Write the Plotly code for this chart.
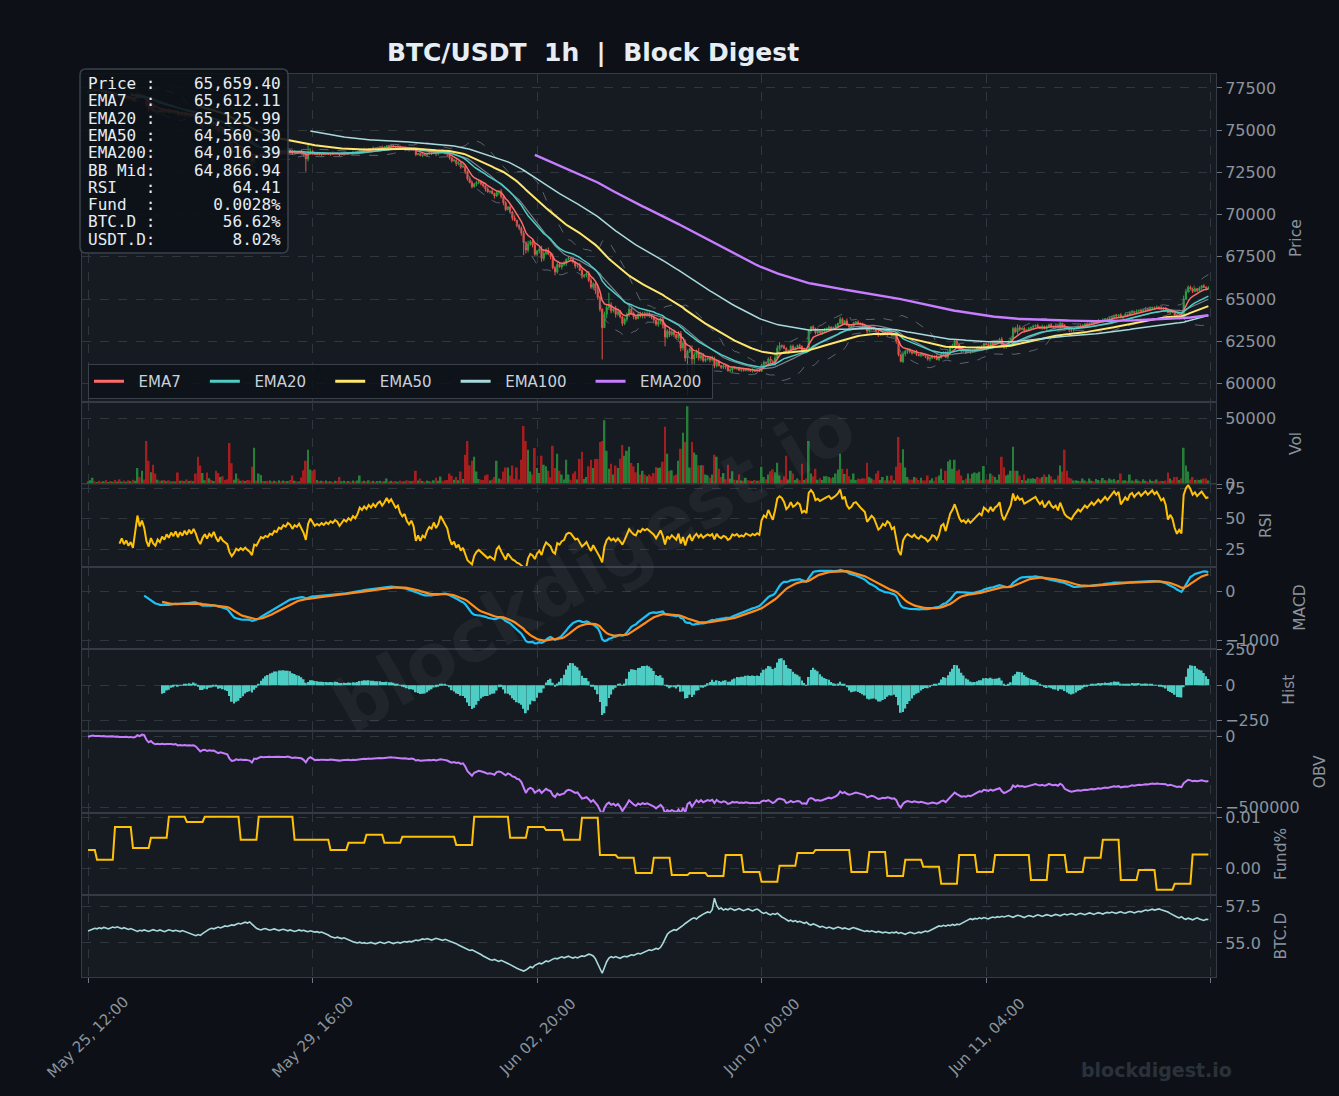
import numpy as np
import pandas as pd
import plotly.graph_objects as go
from plotly.subplots import make_subplots

# ---------------- data ----------------
start_time = "2024-05-25 12:00"
open_first = 77250.0

close_rows = [
    [77300, 77380, 77420, 77350, 77410, 77330, 77260, 77300, 77180, 77220, 77100, 77140, 77050, 77090, 76980, 77020, 76920, 76950, 76850, 76880, 76760, 76900, 77150, 76950],
    [77050, 76900, 76500, 76250, 76420, 76180, 76060, 76190, 76070, 76190, 76060, 76180, 76040, 76160, 76020, 76130, 75900, 76020, 75880, 76000, 75850, 75970, 75820, 75940],
    [75760, 75450, 75250, 75400, 75500, 75300, 75420, 75300, 75420, 75150, 74950, 75080, 74880, 74780, 74680, 74100, 73700, 73780, 73900, 73760, 73820, 73680, 73740, 73580],
    [73450, 73150, 73420, 73350, 73480, 73580, 73520, 73580, 73530, 73610, 73570, 73660, 73620, 73720, 73680, 73760, 73720, 73800, 73760, 73650, 73720, 73680, 73740, 73640],
    [73520, 73300, 73620, 73760, 73640, 73560, 73600, 73560, 73610, 73570, 73620, 73580, 73630, 73600, 73650, 73620, 73540, 73590, 73640, 73610, 73660, 73630, 73690, 73660],
    [73720, 73830, 73800, 73860, 73830, 73900, 73870, 73930, 73900, 73960, 73990, 73950, 74000, 74080, 74040, 74090, 74050, 74010, 74040, 73970, 73930, 73960, 73880, 73840],
    [73880, 73810, 73560, 73620, 73500, 73560, 73520, 73600, 73650, 73620, 73700, 73610, 73660, 73780, 73720, 73660, 73580, 73360, 73180, 73220, 73020, 73060, 72820, 72860],
    [72560, 72110, 71900, 71650, 71820, 71900, 71940, 71820, 71700, 71520, 71350, 71380, 71250, 71100, 71300, 71360, 71050, 70700, 70300, 70450, 70150, 69800, 69650, 69350],
    [69200, 68900, 68350, 67900, 68250, 68400, 68200, 67650, 67850, 67950, 67400, 67700, 67900, 67650, 67500, 66850, 66600, 67050, 66900, 67050, 67100, 67350, 67420, 67380],
    [67200, 66950, 66980, 66700, 66350, 66420, 66500, 66100, 65700, 65900, 65500, 65100, 64400, 63300, 64100, 64500, 64650, 64300, 64400, 64100, 64250, 63950, 63550, 63800],
    [64050, 64400, 64150, 63950, 63850, 64100, 64000, 64150, 64050, 64120, 64000, 63900, 63750, 63500, 63650, 63800, 63450, 62750, 63100, 62900, 63050, 62900, 62700, 62950],
    [62100, 62400, 61500, 61900, 62050, 61450, 61700, 61850, 61500, 61650, 61350, 61450, 61520, 61400, 61480, 61050, 61300, 61050, 60950, 61050, 60980, 60750, 60800, 60950],
    [60880, 60930, 60780, 60820, 60760, 60850, 60800, 60740, 60790, 60730, 60780, 60720, 61100, 61250, 61200, 61450, 61300, 61150, 61500, 62100, 62250, 62200, 62080, 61850],
    [61950, 62200, 62050, 62120, 62250, 62200, 61950, 62020, 61950, 63100, 63350, 63250, 63000, 63100, 63020, 63080, 63180, 63260, 63330, 63250, 63320, 63420, 63550, 63800],
    [63550, 63700, 63450, 63350, 63420, 63600, 63640, 63560, 63500, 63440, 63380, 63100, 63200, 63280, 63220, 63050, 62850, 62900, 63000, 62940, 63050, 63000, 62820, 62860],
    [62500, 61700, 61300, 61750, 61900, 61980, 61880, 61800, 61880, 61720, 61650, 61730, 61660, 61600, 61450, 61500, 61600, 61560, 61420, 61520, 61750, 61800, 61550, 61850],
    [62100, 62250, 62500, 62300, 62050, 61900, 61950, 61850, 61950, 61850, 61920, 62000, 62080, 62150, 62100, 62350, 62300, 62250, 62400, 62300, 62420, 62480, 62600, 62300],
    [62150, 62300, 62450, 62650, 63250, 63050, 63300, 63200, 63260, 63120, 63180, 63250, 63320, 63380, 63440, 63350, 63280, 63380, 63250, 63350, 63480, 63380, 63330, 63400],
    [63300, 63550, 63420, 63280, 63220, 63180, 63150, 63250, 63320, 63400, 63360, 63450, 63520, 63480, 63560, 63620, 63580, 63660, 63720, 63680, 63760, 63820, 63780, 63850],
    [63950, 64020, 63980, 64060, 63900, 63980, 64080, 64040, 64200, 64250, 64200, 64280, 64330, 64290, 64360, 64420, 64380, 64450, 64500, 64460, 64520, 64480, 64430, 64470],
    [64400, 64200, 64280, 64220, 64050, 63920, 63980, 63900, 65000, 65450, 65700, 65600, 65450, 65600, 65500, 65650, 65780, 65700, 65620, 65659.40],
]

volume_rows = [
    [2200, 3100, 5000, 2500, 1900, 2800, 2100, 2400, 3300, 1800, 2600, 2000, 3400, 2200, 3900, 2300, 2900, 2100, 3200, 2500, 3600, 2800, 12400, 5700],
    [10400, 3800, 32800, 17900, 9200, 14900, 8200, 3500, 2700, 2900, 3300, 2400, 3100, 2200, 2600, 2300, 9000, 2800, 3000, 2500, 3700, 2600, 2900, 2400],
    [8200, 20900, 14200, 8700, 3100, 9000, 4700, 3300, 2600, 10400, 8700, 5700, 6200, 3400, 3900, 31300, 15900, 3500, 8200, 4500, 2800, 3200, 2600, 3300],
    [3100, 13400, 27600, 3000, 8200, 7200, 2600, 2400, 2800, 3000, 2300, 2700, 2500, 3100, 2200, 2900, 2400, 2600, 3300, 6700, 2700, 2400, 2200, 5200],
    [10700, 17900, 26100, 11200, 10200, 11200, 3300, 2600, 2800, 2400, 2900, 2300, 2500, 2100, 2800, 2600, 5700, 2400, 2700, 2300, 2600, 2200, 3000, 2500],
    [2900, 6700, 2400, 2800, 2200, 3100, 2300, 2700, 2100, 2600, 2800, 2300, 2500, 4500, 2400, 2700, 2200, 2600, 2100, 2900, 2500, 2200, 3100, 2700],
    [2500, 2800, 10400, 3000, 4500, 2600, 2300, 2900, 2500, 2200, 3100, 5000, 2700, 6000, 2800, 3100, 3400, 8200, 6500, 3600, 5700, 3200, 9700, 4100],
    [22400, 32800, 14400, 17900, 20900, 9700, 4200, 3600, 3300, 6700, 7500, 3000, 3700, 5700, 17900, 4500, 3900, 9700, 12700, 12700, 6700, 14200, 4200, 12700],
    [3800, 18700, 44000, 32800, 26100, 9700, 7500, 27400, 12400, 8700, 21600, 14900, 13700, 10400, 5500, 29100, 12400, 23100, 10400, 7500, 3800, 18700, 7500, 3500],
    [8200, 10000, 3700, 19200, 24600, 4200, 5700, 13700, 18700, 12400, 19200, 19200, 32100, 32800, 48500, 25400, 11900, 15700, 7500, 14200, 12400, 19400, 29800, 21600],
    [25400, 28400, 16200, 13700, 9200, 16200, 7500, 10400, 7500, 6200, 7500, 6200, 8700, 13200, 12400, 12700, 17200, 43500, 23100, 10200, 10700, 6700, 7500, 17900],
    [26900, 39000, 32100, 58900, 12700, 32100, 24100, 22400, 14400, 14400, 14400, 7500, 7000, 5000, 7500, 22400, 20900, 11900, 5700, 8700, 3900, 14900, 4300, 10000],
    [3600, 3200, 7500, 3000, 2800, 5000, 3100, 2900, 2600, 3300, 2800, 3000, 13400, 5700, 3900, 7500, 10000, 11400, 9200, 16400, 6700, 3500, 6200, 21600],
    [3800, 10400, 8200, 3300, 4500, 3100, 15700, 3400, 4500, 32800, 8200, 6200, 11900, 3600, 4700, 3300, 6200, 6200, 5700, 4700, 5500, 8200, 11200, 23100],
    [11900, 7900, 11900, 6200, 3700, 8200, 3300, 4500, 4200, 4700, 4400, 16400, 5700, 4500, 3500, 8200, 10400, 3300, 5700, 3100, 6500, 3000, 6700, 3200],
    [13400, 35800, 16400, 26600, 12700, 5700, 3800, 3500, 5700, 5000, 3300, 5000, 3000, 2900, 6700, 3100, 4700, 2800, 5700, 6700, 11900, 3400, 10400, 17400],
    [18700, 11900, 18700, 10400, 11200, 6700, 3200, 4500, 8200, 4500, 8000, 9000, 8500, 9500, 3300, 14000, 3700, 3700, 8200, 6700, 5700, 3600, 7500, 20900],
    [12900, 6700, 7500, 10400, 28400, 10400, 10400, 6700, 3400, 7500, 3000, 4500, 4300, 4700, 4200, 5700, 4500, 5700, 7500, 5700, 7500, 6200, 3700, 3700],
    [6700, 14200, 9700, 26100, 10400, 5000, 4500, 3000, 3200, 2800, 2600, 4500, 2900, 2500, 4500, 2700, 2400, 4200, 3400, 2800, 4800, 3100, 2900, 4500],
    [3500, 4200, 2800, 3300, 8200, 2900, 3200, 2600, 7500, 3000, 2700, 4000, 2800, 2500, 4000, 2700, 2400, 3800, 2600, 2800, 3800, 2500, 2700, 2400],
    [2900, 9000, 4500, 3200, 5700, 5700, 3300, 4500, 27600, 14200, 9700, 3700, 5700, 3400, 3700, 3300, 3700, 4500, 4500, 3000],
]

# candle wicks beyond the body, in steps of 50 USD (one digit per hourly candle)
wick_up_rows = [
    "120101 211020 112101 201130", "211302 101120 210110 213010", "102121 013012 210341 021101",
    "113201 210211 012102 112012", "242311 021210 120102 110121", "101211 020112 101210 211012",
    "121012 012101 312023 121213", "213212 321121 312132 212131", "223142 321343 231423 213121",
    "212321 233215 213433 243212", "343221 322321 213232 243213", "324214 335432 213232 121221",
    "101120 112012 121232 434121", "122112 120212 141321 211213", "213121 121212 312121 121212",
    "121322 221212 121221 321223", "322212 212121 212112 122123", "212122 431212 121212 121212",
    "121221 212121 121211 212112", "112121 211212 121212 112121", "112121 214322 121212 12",
]
wick_dn_rows = [
    "011210 120112 010211 011201", "102312 131201 110210 120211", "211302 121121 212431 311201",
    "223110 121011 201211 020112", "233120 112101 210120 211021", "110211 201102 110112 102112",
    "102112 011213 201232 213221", "321213 222312 131323 212312", "231432 322343 213242 132312",
    "232132 322343 330533 242232", "322321 234222 423343 232312", "434322 443322 232321 223123",
    "121211 212120 123121 212211", "211213 121212 221321 211221", "121212 121213 212121 223112",
    "321233 221212 122312 121212", "212122 121212 121212 121213", "223121 321212 121212 121212",
    "121213 221212 112121 212121", "121212 121212 121212 121212", "212132 322121 212121 21",
]
spike_low_idx = [73, 97, 194, 229, 257, 267, 269, 270]
spike_low_val = [72830, 72550, 67600, 61420, 62200, 59300, 59900, 60200]
spike_high_idx = [98, 232]
spike_high_val = [74200, 65380]

# funding rate (%), one value per 8-hour funding period
funding_8h = [
    0.0037, 0.0018, 0.0082, 0.0041, 0.0061, 0.0102, 0.0092, 0.0102, 0.0102, 0.0057,
    0.0102, 0.0102, 0.0057, 0.0057, 0.0037, 0.0051, 0.0067, 0.0051, 0.0063, 0.0063,
    0.0063, 0.0047, 0.0102, 0.0102, 0.0061, 0.0082, 0.0076, 0.0057, 0.0100, 0.0027,
    0.0022, -0.0008, 0.0022, -0.0012, -0.0008, -0.0014, 0.0027, -0.0006, -0.0025, 0.0006,
    0.0031, 0.0037, 0.0037, -0.0006, 0.0033, -0.0014, 0.0018, 0.0004, -0.0029, 0.0027,
    -0.0006, 0.0027, 0.0027, -0.0022, 0.0027, -0.0006, 0.0022, 0.0057, -0.0022, -0.0002,
    -0.0041, -0.0029, 0.0028,
]

btcd_rows = [
    [55.83, 55.90, 55.95, 56.02, 55.98, 56.05, 56.00, 56.08, 56.03, 55.97, 56.04, 56.10, 56.06, 56.12, 56.05, 55.99, 56.06, 56.01, 55.94, 56.00, 55.92, 55.86, 55.80, 55.88],
    [55.84, 55.90, 55.85, 55.80, 55.87, 55.92, 55.86, 55.83, 55.90, 55.84, 55.78, 55.85, 55.91, 55.87, 55.82, 55.88, 55.84, 55.79, 55.86, 55.80, 55.74, 55.70, 55.62, 55.55],
    [55.50, 55.58, 55.52, 55.65, 55.78, 55.85, 55.96, 56.02, 55.98, 56.05, 56.10, 56.04, 56.12, 56.18, 56.14, 56.20, 56.25, 56.22, 56.30, 56.36, 56.32, 56.40, 56.44, 56.38],
    [56.46, 56.30, 56.15, 56.02, 55.95, 55.90, 55.96, 56.00, 55.94, 55.88, 55.93, 55.97, 55.91, 55.86, 55.92, 55.95, 55.89, 55.84, 55.90, 55.86, 55.80, 55.85, 55.90, 55.84],
    [55.88, 55.82, 55.78, 55.84, 55.80, 55.75, 55.78, 55.72, 55.76, 55.70, 55.62, 55.55, 55.45, 55.38, 55.35, 55.40, 55.33, 55.30, 55.36, 55.28, 55.22, 55.15, 55.08, 55.04],
    [55.00, 55.05, 54.98, 55.02, 54.96, 55.00, 55.04, 54.98, 54.94, 55.00, 55.06, 55.02, 54.97, 55.03, 55.08, 55.02, 54.96, 55.01, 55.05, 54.99, 55.04, 55.10, 55.06, 55.12],
    [55.08, 55.15, 55.20, 55.16, 55.22, 55.28, 55.24, 55.30, 55.25, 55.20, 55.26, 55.32, 55.28, 55.22, 55.18, 55.25, 55.20, 55.14, 55.10, 55.02, 54.95, 54.86, 54.78, 54.70],
    [54.62, 54.55, 54.48, 54.52, 54.45, 54.38, 54.30, 54.20, 54.10, 54.00, 53.92, 53.85, 53.80, 53.86, 53.78, 53.72, 53.80, 53.74, 53.66, 53.58, 53.50, 53.40, 53.32, 53.25],
    [53.18, 53.10, 53.05, 53.12, 53.22, 53.35, 53.28, 53.45, 53.52, 53.60, 53.55, 53.68, 53.75, 53.70, 53.82, 53.88, 53.94, 53.90, 53.98, 54.04, 53.97, 54.02, 54.08, 54.00],
    [53.95, 54.02, 53.96, 54.04, 54.10, 54.06, 54.15, 54.22, 54.18, 54.10, 53.90, 53.60, 53.20, 52.90, 53.30, 53.70, 53.95, 54.05, 53.98, 54.06, 54.00, 53.94, 54.02, 54.08],
    [54.04, 54.12, 54.18, 54.14, 54.22, 54.28, 54.24, 54.30, 54.38, 54.45, 54.52, 54.48, 54.55, 54.62, 54.58, 54.70, 54.95, 55.30, 55.60, 55.75, 55.85, 55.92, 55.88, 55.98],
    [56.10, 56.22, 56.35, 56.48, 56.60, 56.68, 56.74, 56.66, 56.80, 56.92, 57.00, 57.08, 57.15, 57.10, 57.30, 58.10, 57.60, 57.35, 57.42, 57.28, 57.36, 57.30, 57.40, 57.34],
    [57.26, 57.32, 57.38, 57.30, 57.24, 57.31, 57.36, 57.28, 57.22, 57.30, 57.35, 57.26, 57.12, 57.05, 57.12, 57.00, 56.95, 57.04, 56.98, 57.06, 56.92, 56.80, 56.72, 56.60],
    [56.52, 56.58, 56.48, 56.55, 56.45, 56.50, 56.42, 56.36, 56.44, 56.30, 56.24, 56.32, 56.26, 56.18, 56.10, 56.15, 56.08, 56.02, 56.10, 56.05, 55.98, 56.04, 56.10, 56.06],
    [55.98, 56.04, 56.00, 55.94, 56.02, 56.07, 56.01, 55.95, 55.90, 55.86, 55.80, 55.85, 55.78, 55.84, 55.79, 55.74, 55.80, 55.75, 55.70, 55.76, 55.72, 55.68, 55.74, 55.70],
    [55.76, 55.66, 55.72, 55.65, 55.60, 55.68, 55.74, 55.70, 55.64, 55.69, 55.75, 55.70, 55.76, 55.82, 55.78, 55.86, 55.94, 56.02, 56.10, 56.18, 56.14, 56.22, 56.16, 56.24],
    [56.20, 56.28, 56.22, 56.30, 56.26, 56.36, 56.44, 56.52, 56.60, 56.68, 56.62, 56.70, 56.66, 56.74, 56.68, 56.76, 56.72, 56.66, 56.74, 56.80, 56.75, 56.82, 56.78, 56.85],
    [56.80, 56.86, 56.90, 56.84, 56.78, 56.85, 56.92, 56.88, 56.82, 56.76, 56.84, 56.90, 56.86, 56.80, 56.88, 56.95, 56.90, 56.84, 56.90, 56.96, 56.92, 56.86, 56.92, 56.98],
    [56.94, 56.88, 56.95, 57.00, 56.94, 56.98, 57.04, 56.99, 56.93, 57.00, 57.06, 57.01, 56.96, 57.02, 57.08, 57.04, 56.98, 57.05, 57.10, 57.06, 57.00, 57.07, 57.12, 57.08],
    [57.14, 57.10, 57.05, 57.12, 57.16, 57.10, 57.06, 57.13, 57.18, 57.14, 57.08, 57.15, 57.20, 57.16, 57.22, 57.28, 57.24, 57.30, 57.34, 57.28, 57.32, 57.36, 57.30, 57.26],
    [57.20, 57.14, 57.05, 56.95, 56.88, 56.80, 56.74, 56.82, 56.70, 56.64, 56.72, 56.66, 56.60, 56.68, 56.74, 56.66, 56.60, 56.56, 56.64, 56.62],
]

tick_hours = [0, 100, 200, 300, 400, 500]
tick_labels = ["May 25, 12:00", "May 29, 16:00", "Jun 02, 20:00", "Jun 07, 00:00", "Jun 11, 04:00", ""]

info_labels = ["Price", "EMA7", "EMA20", "EMA50", "EMA200", "BB Mid", "RSI", "Fund", "BTC.D", "USDT.D"]
info_values = ["65,659.40", "65,612.11", "65,125.99", "64,560.30", "64,016.39", "64,866.94",
               "64.41", "0.0028%", "56.62%", "8.02%"]

ema_periods = [7, 20, 50, 100, 200]
ema_colors = ["#ff6b6b", "#4ecdc4", "#ffe66d", "#a8dadc", "#c77dff"]
ema_widths = [1.5, 1.5, 2.0, 1.5, 2.4]

# ---------------- series ----------------
closes = np.array([v for r in close_rows for v in r], dtype=float)
volumes = np.array([v for r in volume_rows for v in r], dtype=float)
btcd = np.array([v for r in btcd_rows for v in r], dtype=float)
wick_up = np.array([int(c) for r in wick_up_rows for c in r.replace(" ", "")])
wick_dn = np.array([int(c) for r in wick_dn_rows for c in r.replace(" ", "")])
n = len(closes)
for name, arr in [("volumes", volumes), ("btcd", btcd), ("wick_up", wick_up), ("wick_dn", wick_dn)]:
    if len(arr) != n:
        raise SystemExit(f"length mismatch {name}: {len(arr)} vs {n}")

t0 = pd.Timestamp(start_time)
times = pd.date_range(t0, periods=n, freq="h")
opens = np.concatenate([[open_first], closes[:-1]])
highs = np.maximum(opens, closes) + 50 * wick_up
lows = np.minimum(opens, closes) - 50 * wick_dn
for i, v in zip(spike_low_idx, spike_low_val):
    lows[i] = min(lows[i], v)
for i, v in zip(spike_high_idx, spike_high_val):
    highs[i] = max(highs[i], v)

funding = np.array([funding_8h[(i + 4) // 8] for i in range(n)])

s = pd.Series(closes)
emas = [s.ewm(span=p, adjust=False, min_periods=p).mean() for p in ema_periods]
bb_mid = s.rolling(20).mean()
bb_std = s.rolling(20).std(ddof=0)
bb_up = bb_mid + 2 * bb_std
bb_lo = bb_mid - 2 * bb_std

delta = s.diff()
gain = delta.clip(lower=0)
loss = -delta.clip(upper=0)
avg_gain = gain.ewm(alpha=1 / 14, min_periods=14).mean()
avg_loss = loss.ewm(alpha=1 / 14, min_periods=14).mean()
rsi = 100 - 100 / (1 + avg_gain / avg_loss)

ema12 = s.ewm(span=12, adjust=False, min_periods=12).mean()
ema26 = s.ewm(span=26, adjust=False, min_periods=26).mean()
macd = ema12 - ema26
signal = macd.ewm(span=9, adjust=False, min_periods=9).mean()
hist = macd - signal

direction = np.concatenate([[0], np.sign(np.diff(closes))])
obv = np.cumsum(direction * volumes)

# ---------------- styling ----------------
BG = "#0d1117"
PANEL = "#161b22"
GRID = "#30363d"
SPINE = "#353b44"
TXT = "#8b949e"
GREEN = "#2ea043"
RED = "#e5534b"
VGREEN = "#267f38"
VRED = "#a51d1d"
NB = "\u00a0"

fig = make_subplots(rows=8, cols=1, shared_xaxes=True, vertical_spacing=0,
                    row_heights=[4, 1, 1, 1, 1, 1, 1, 1])

# Bollinger bands
fig.add_trace(go.Scatter(x=times, y=bb_up, mode="lines", line=dict(color="#5c6470", width=1, dash="dash"),
                         showlegend=False, hoverinfo="skip"), row=1, col=1)
fig.add_trace(go.Scatter(x=times, y=bb_lo, mode="lines", line=dict(color="#5c6470", width=1, dash="dash"),
                         showlegend=False, hoverinfo="skip"), row=1, col=1)
fig.add_trace(go.Scatter(x=times, y=bb_mid, mode="lines", line=dict(color="#7d8590", width=1.2),
                         showlegend=False, hoverinfo="skip"), row=1, col=1)

fig.add_trace(go.Candlestick(x=times, open=opens, high=highs, low=lows, close=closes,
                             increasing=dict(line=dict(color=GREEN, width=1), fillcolor=GREEN),
                             decreasing=dict(line=dict(color=RED, width=1), fillcolor=RED),
                             whiskerwidth=0, showlegend=False), row=1, col=1)

for p, e, c, w in zip(ema_periods, emas, ema_colors, ema_widths):
    fig.add_trace(go.Scatter(x=times, y=e, mode="lines", name=f"EMA{p}", line=dict(color=c, width=w),
                             showlegend=False), row=1, col=1)
# legend entries (thicker sample lines, as in the reference legend)
for k, (p, c) in enumerate(zip(ema_periods, ema_colors)):
    trail = NB * 4 if k < len(ema_periods) - 1 else NB
    fig.add_trace(go.Scatter(x=[None], y=[None], mode="lines", name=f"{NB*2}EMA{p}{trail}",
                             line=dict(color=c, width=3), showlegend=True), row=1, col=1)

vol_colors = np.where(closes >= opens, VGREEN, VRED)
fig.add_trace(go.Bar(x=times, y=volumes, marker=dict(color=vol_colors, line=dict(width=0)),
                     showlegend=False), row=2, col=1)

fig.add_trace(go.Scatter(x=times, y=rsi, mode="lines", line=dict(color="#ffc107", width=2),
                         showlegend=False), row=3, col=1)

fig.add_trace(go.Scatter(x=times, y=macd, mode="lines", line=dict(color="#1ec0f5", width=2.2),
                         showlegend=False), row=4, col=1)
fig.add_trace(go.Scatter(x=times, y=signal, mode="lines", line=dict(color="#ff8c1a", width=2.2),
                         showlegend=False), row=4, col=1)

fig.add_trace(go.Bar(x=times, y=hist, marker=dict(color="#4ecdc4", line=dict(width=0)),
                     showlegend=False), row=5, col=1)

fig.add_trace(go.Scatter(x=times, y=obv, mode="lines", line=dict(color="#c77dff", width=2),
                         showlegend=False), row=6, col=1)

fig.add_trace(go.Scatter(x=times, y=funding, mode="lines", line=dict(color="#ffc107", width=2),
                         showlegend=False), row=7, col=1)

fig.add_trace(go.Scatter(x=times, y=btcd, mode="lines", line=dict(color="#a8dadc", width=1.6),
                         showlegend=False), row=8, col=1)

# axes
x_range = [t0 - pd.Timedelta(hours=2.7), t0 + pd.Timedelta(hours=502.4)]
tick_vals = [t0 + pd.Timedelta(hours=h) for h in tick_hours]
for r in range(1, 9):
    fig.update_xaxes(row=r, col=1, range=x_range, tickvals=tick_vals, ticktext=tick_labels,
                     showgrid=True, gridcolor=GRID, griddash="dash", gridwidth=1,
                     showline=True, linecolor=SPINE, mirror=True, zeroline=False,
                     rangeslider_visible=False, automargin=False,
                     ticks="outside" if r == 8 else "", ticklen=5, tickcolor="#6e7681",
                     showticklabels=False)

yspecs = [
    ("Price", [58877, 78328], dict(dtick=2500, tick0=0, tickformat="d")),
    ("Vol", [0, 61900], dict(tickvals=[0, 50000], tickformat="d")),
    ("RSI", [10.8, 78.3], dict(tickvals=[25, 50, 75])),
    ("MACD", [-1163, 510], dict(tickvals=[-1000, 0], tickformat="d")),
    ("Hist", [-320, 257], dict(tickvals=[-250, 0, 250], tickformat="d")),
    ("OBV", [-535000, 42000], dict(tickvals=[-500000, 0], tickformat="d")),
    ("Fund%", [-0.0051, 0.01098], dict(tickvals=[0, 0.01], tickformat=".2f")),
    ("BTC.D", [52.64, 58.33], dict(tickvals=[55, 57.5], tickformat=".1f")),
]
for r, (title, rng, extra) in enumerate(yspecs, start=1):
    fig.update_yaxes(row=r, col=1, side="right", range=rng, automargin=False,
                     title=dict(text=title, standoff=15, font=dict(size=15.5, color=TXT)),
                     showgrid=True, gridcolor=GRID, griddash="dash", gridwidth=1,
                     showline=True, linecolor=SPINE, mirror=True, zeroline=False,
                     ticks="outside", ticklen=5, tickcolor="#6e7681",
                     tickfont=dict(size=16, color=TXT), **extra)

# pixel helpers for overlay placement
PW = 1134.0
PH = 903.0
def px_x(px):
    return (px - 82) / PW
def px_y(py):
    return (977 - py) / PH

# info box
bx0, bx1, by0, by1 = px_x(80), px_x(288), px_y(253), px_y(69)
rx, ry = 6 / PW, 6 / PH
box_path = (f"M {bx0+rx},{by0} L {bx1-rx},{by0} Q {bx1},{by0} {bx1},{by0+ry} "
            f"L {bx1},{by1-ry} Q {bx1},{by1} {bx1-rx},{by1} L {bx0+rx},{by1} "
            f"Q {bx0},{by1} {bx0},{by1-ry} L {bx0},{by0+ry} Q {bx0},{by0} {bx0+rx},{by0} Z")
fig.add_shape(type="path", path=box_path, xref="paper", yref="paper", layer="above",
              fillcolor="rgba(13,17,23,0.88)", line=dict(color="#3a414b", width=1.5))

annotations = []
for k, (lab, val) in enumerate(zip(info_labels, info_values)):
    line = f"{lab:<6}:{val:>13}".replace(" ", NB)
    annotations.append(dict(x=px_x(86), y=px_y(83.5 + 17.3 * k), xref="paper", yref="paper",
                            xanchor="left", yanchor="middle", showarrow=False, text=line,
                            font=dict(family="DejaVu Sans Mono", size=16, color="#e6edf3")))

# bottom date labels, centred under their ticks and rotated 45 degrees
for tv, tl in zip(tick_vals, tick_labels):
    if tl:
        annotations.append(dict(x=tv, y=px_y(1037), xref="x8", yref="paper", showarrow=False,
                                xanchor="center", yanchor="middle", textangle=-45, text=tl,
                                font=dict(family="DejaVu Sans", size=15, color=TXT)))

annotations.append(dict(x=px_x(593), y=px_y(566), xref="paper", yref="paper", showarrow=False,
                        text="<b>blockdigest.io</b>", textangle=-30,
                        font=dict(family="DejaVu Sans", size=74, color="rgba(255,255,255,0.045)")))
annotations.append(dict(x=px_x(1234), y=px_y(1070), xref="paper", yref="paper", showarrow=False,
                        xanchor="right", yanchor="middle", text="<b>blockdigest.io</b>",
                        font=dict(family="DejaVu Sans", size=19, color="#2b313a")))

fig.update_layout(
    width=1339, height=1096, autosize=False,
    margin=dict(l=82, r=123, t=74, b=119),
    paper_bgcolor=BG, plot_bgcolor=PANEL,
    font=dict(family="DejaVu Sans", color=TXT, size=15),
    title=dict(text=f"<b>BTC/USDT{NB}{NB}1h{NB}{NB}|{NB}{NB}Block Digest</b>",
               x=px_x(593), xref="paper", xanchor="center",
               y=1 - 52 / 1096, yref="container", yanchor="middle",
               font=dict(family="DejaVu Sans", size=25, color="#e6edf3")),
    showlegend=True,
    legend=dict(orientation="h", x=px_x(88), y=px_y(381.5), xanchor="left", yanchor="middle",
                bgcolor="rgba(13,17,23,0.85)", bordercolor="#3a414b", borderwidth=1,
                font=dict(size=15, color="#c9d1d9")),
    bargap=0.2,
    annotations=annotations,
)

fig.write_html("out.html")
